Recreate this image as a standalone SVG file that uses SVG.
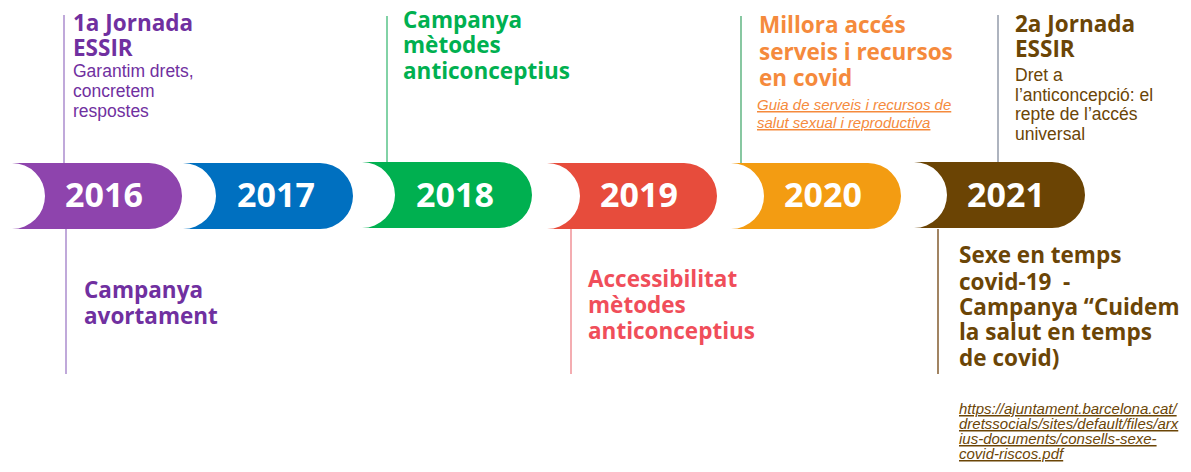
<svg xmlns="http://www.w3.org/2000/svg" width="1191" height="472" viewBox="0 0 1191 472">
<style>
.year{font-family:"Open Sans","DejaVu Sans",sans-serif;font-weight:700;font-size:34px;fill:#fff;text-anchor:middle}
.h{font-family:"Open Sans","DejaVu Sans",sans-serif;font-weight:700;font-size:22.5px}
.b{font-family:"Liberation Sans",Arial,sans-serif;font-size:17.5px}
.i{font-family:"Liberation Sans",Arial,sans-serif;font-style:italic;text-decoration:underline}
.ln{stroke-width:1.4;fill:none}
</style>
<rect width="1191" height="472" fill="#fff"/>
<g id="connectors">
<line class="ln" x1="64" y1="15" x2="64" y2="163" stroke="#A585CB"/>
<line class="ln" x1="66" y1="229" x2="66" y2="374" stroke="#A585CB"/>
<line class="ln" x1="387" y1="16" x2="387" y2="163" stroke="#4DBF80"/>
<line class="ln" x1="571" y1="229" x2="571" y2="374" stroke="#F08A90"/>
<line class="ln" x1="741" y1="16" x2="741" y2="163" stroke="#55B07A"/>
<line class="ln" x1="998" y1="15" x2="998" y2="163" stroke="#8C94A4"/>
<line class="ln" x1="938" y1="229" x2="938" y2="374" stroke="#7A5020"/>
</g>
<g id="y2016">
<path d="M12,163 H149 A33 33 0 0 1 149,229 H12 A33 33 0 0 0 12,163 Z" fill="#8E44AD"/>
<text class="year" x="104" y="207">2016</text>
</g>
<g id="y2017">
<path d="M183,163 H320 A33 33 0 0 1 320,229 H183 A33 33 0 0 0 183,163 Z" fill="#0070C0"/>
<text class="year" x="276" y="207">2017</text>
</g>
<g id="y2018">
<path d="M362,162 H499 A33 33 0 0 1 499,228 H362 A33 33 0 0 0 362,162 Z" fill="#00B050"/>
<text class="year" x="455" y="207">2018</text>
</g>
<g id="y2019">
<path d="M547,163 H684 A33 33 0 0 1 684,229 H547 A33 33 0 0 0 547,163 Z" fill="#E74C3C"/>
<text class="year" x="639" y="207">2019</text>
</g>
<g id="y2020">
<path d="M731,163 H868 A33 33 0 0 1 868,229 H731 A33 33 0 0 0 731,163 Z" fill="#F39C12"/>
<text class="year" x="823" y="207">2020</text>
</g>
<g id="y2021">
<path d="M914,162 H1052 A33 33 0 0 1 1052,228 H914 A33 33 0 0 0 914,162 Z" fill="#6B4404"/>
<text class="year" x="1006" y="207">2021</text>
</g>
<g id="label-2016-top" fill="#7030A0">
<text class="h" x="73" y="31">1a Jornada</text>
<text class="h" x="73" y="56">ESSIR</text>
<text class="b" x="73" y="77">Garantim drets,</text>
<text class="b" x="73" y="97">concretem</text>
<text class="b" x="73" y="117">respostes</text>
</g>
<g id="label-2016-bottom" fill="#7030A0">
<text class="h" x="84" y="298">Campanya</text>
<text class="h" x="84" y="324">avortament</text>
</g>
<g id="label-2018" fill="#00B050">
<text class="h" x="403" y="28">Campanya</text>
<text class="h" x="403" y="53">mètodes</text>
<text class="h" x="403" y="79">anticonceptius</text>
</g>
<g id="label-2019" fill="#F04E5A">
<text class="h" x="588" y="287">Accessibilitat</text>
<text class="h" x="588" y="313">mètodes</text>
<text class="h" x="588" y="339">anticonceptius</text>
</g>
<g id="label-2020" fill="#F58A3C">
<text class="h" x="759" y="33">Millora accés</text>
<text class="h" x="759" y="60">serveis i recursos</text>
<text class="h" x="759" y="86">en covid</text>
<text class="i" x="757" y="110" font-size="15">Guia de serveis i recursos de</text>
<text class="i" x="757" y="128" font-size="15">salut sexual i reproductiva</text>
</g>
<g id="label-2021-top" fill="#6B4506">
<text class="h" x="1015" y="32">2a Jornada</text>
<text class="h" x="1015" y="57">ESSIR</text>
<text class="b" x="1015" y="81">Dret a</text>
<text class="b" x="1015" y="101">l’anticoncepció: el</text>
<text class="b" x="1015" y="120">repte de l’accés</text>
<text class="b" x="1015" y="140">universal</text>
</g>
<g id="label-2021-bottom" fill="#6B4506">
<text class="h" x="959" y="263">Sexe en temps</text>
<text class="h" x="959" y="290" xml:space="preserve">covid-19  -</text>
<text class="h" x="959" y="315">Campanya “Cuidem</text>
<text class="h" x="959" y="340">la salut en temps</text>
<text class="h" x="959" y="366">de covid)</text>
<text class="i" x="959" y="414" font-size="15">https://ajuntament.barcelona.cat/</text>
<text class="i" x="959" y="429" font-size="15">dretssocials/sites/default/files/arx</text>
<text class="i" x="959" y="444" font-size="15">ius-documents/consells-sexe-</text>
<text class="i" x="959" y="459" font-size="15">covid-riscos.pdf</text>
</g>
</svg>
